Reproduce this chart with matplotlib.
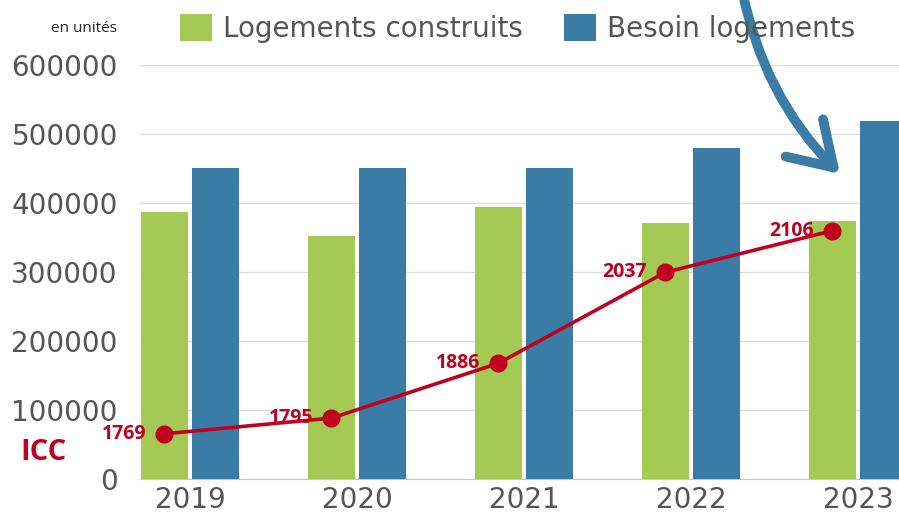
import matplotlib.pyplot as plt
import numpy as np
from matplotlib.patches import FancyArrowPatch

# data
years = ['2019', '2020', '2021', '2022', '2023']
construits = [387000, 352000, 394000, 371000, 374000]
besoin = [450000, 450000, 451000, 480000, 519000]
icc = [1769, 1795, 1886, 2037, 2106]

green = '#A5C955'
blue = '#3B7CA6'
red = '#C0001E'
gray_txt = '#555555'

fig = plt.figure(figsize=(8.99, 5.13), dpi=100)
ax = fig.add_axes([0.1557, 0.0663, 0.8443, 0.807])

x = np.arange(len(years))
w = 0.28
off = 0.153
ax.bar(x - off, construits, w, color=green, label='Logements construits', zorder=2)
ax.bar(x + off, besoin, w, color=blue, label='Besoin logements', zorder=2)

ax.set_xlim(-0.299, 4.246)
ax.set_ylim(0, 600000)
ax.set_yticks(np.arange(0, 600001, 100000))
ax.set_yticklabels([f'{v:d}' for v in range(0, 600001, 100000)])
ax.set_xticks(x)
ax.set_xticklabels(years)
ax.tick_params(axis='y', length=0, pad=16, labelsize=20, labelcolor=gray_txt)
ax.tick_params(axis='x', length=0, pad=5, labelsize=20, labelcolor=gray_txt)
ax.grid(True, axis='y', color='#DEDEDE', linewidth=1, zorder=0)
ax.set_axisbelow(True)
for s in ['top', 'right', 'left']:
    ax.spines[s].set_visible(False)
ax.spines['bottom'].set_color('#C8C8C8')
ax.spines['bottom'].set_zorder(1)

# ICC line on a secondary axis
ax2 = ax.twinx()
ax2.set_ylim(1694, 2381)
ax2.axis('off')
ax2.plot(x - off, icc, '-o', color=red, linewidth=2.6, markersize=12, zorder=3)
for xi, v in zip(x - off, icc):
    ax2.annotate(str(v), (xi, v), xytext=(-13, 0), textcoords='offset points',
                 ha='right', va='center', color=red, fontsize=14,
                 fontweight='bold', family='Open Sans')

# legend
fig.legend(loc='center left', bbox_to_anchor=(0.2, 0.945), ncol=2, frameon=False,
           fontsize=20, handlelength=1.15, handleheight=1.15, handletextpad=0.4,
           columnspacing=1.5, borderpad=0, borderaxespad=0, labelcolor=gray_txt)

fig.text(117 / 899, 1 - 28 / 513, 'en unités', ha='right', va='center',
         fontsize=11, family='Open Sans', color='#222222')
fig.text(20 / 899, 1 - 452 / 513, 'ICC', ha='left', va='center', fontsize=21,
         fontweight='bold', family='Open Sans', color=red)

# curved arrow
arr = FancyArrowPatch((742 / 899, 1.02), (840 / 899, 1 - 174 / 513),
                      transform=fig.transFigure, connectionstyle='arc3,rad=0.15',
                      arrowstyle='->,head_length=0.6,head_width=0.38',
                      mutation_scale=50, color=blue, linewidth=7,
                      shrinkA=0, shrinkB=0,
                      capstyle='round', joinstyle='round', zorder=5)
fig.patches.append(arr)

fig.savefig('out.png', dpi=100)
